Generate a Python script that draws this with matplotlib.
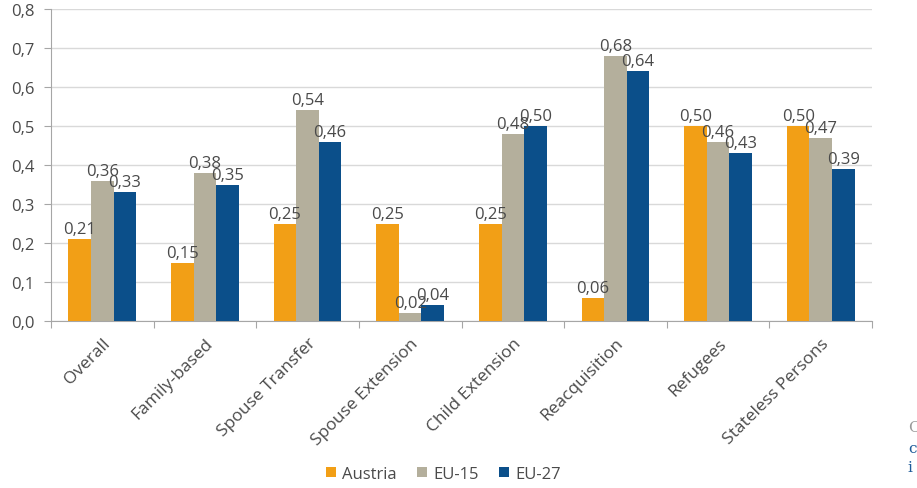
import numpy as np
import matplotlib
matplotlib.use("Agg")
import matplotlib.pyplot as plt
from matplotlib.ticker import FuncFormatter

plt.rcParams['font.family'] = ['Open Sans', 'DejaVu Sans']

categories = ["Overall", "Family-based", "Spouse Transfer", "Spouse Extension",
              "Child Extension", "Reacquisition", "Refugees", "Stateless Persons"]
austria = [0.21, 0.15, 0.25, 0.25, 0.25, 0.06, 0.50, 0.50]
eu15 = [0.36, 0.38, 0.54, 0.02, 0.48, 0.68, 0.46, 0.47]
eu27 = [0.33, 0.35, 0.46, 0.04, 0.50, 0.64, 0.43, 0.39]
series = [("Austria", austria, "#F29F16"),
          ("EU-15", eu15, "#B4AF9C"),
          ("EU-27", eu27, "#0B4F8A")]

txt = "#4a4a4a"
fig = plt.figure(figsize=(9.17, 4.89), dpi=100)
ax = fig.add_axes([0.0556, 0.3415, 0.8954, 0.638])

x = np.arange(len(categories))
w = 0.22
for i, (name, vals, col) in enumerate(series):
    pos = x + (i - 1) * w
    ax.bar(pos, vals, w, color=col, label=name, zorder=3)
    for p, v in zip(pos, vals):
        ax.text(p, v + 0.005, f"{v:.2f}".replace(".", ","), ha="center", va="bottom",
                fontsize=12, color=txt, zorder=4)

ax.set_xlim(-0.5, len(categories) - 0.5)
ax.set_ylim(0, 0.8)
ax.set_yticks(np.arange(0, 0.81, 0.1))
ax.yaxis.set_major_formatter(FuncFormatter(lambda v, _: f"{v:.1f}".replace(".", ",")))
ax.set_xticks(np.arange(-0.5, len(categories), 1.0))
ax.set_xticklabels([])
ax.set_xticks(x, minor=True)
ax.set_xticklabels(categories, minor=True, rotation=45, ha="right", rotation_mode="anchor",
                   fontsize=12.5, color=txt)
ax.tick_params(axis="x", which="minor", length=0, pad=10)
ax.tick_params(axis="x", which="major", length=5, color="#A6A6A6")
ax.tick_params(axis="y", length=5, pad=7, color="#A6A6A6", labelsize=12, labelcolor=txt)

ax.grid(axis="y", color="#D9D9D9", linewidth=1, zorder=0)
for s in ["top", "right"]:
    ax.spines[s].set_visible(False)
for s in ["left", "bottom"]:
    ax.spines[s].set_color("#A6A6A6")

ax.legend(loc="center", bbox_to_anchor=(0.478, -0.49), ncol=3, frameon=False,
          fontsize=12, handlelength=0.6, handleheight=0.6, columnspacing=1.2,
          handletextpad=0.4, labelcolor=txt)

fig.text(0.990, 0.1166, "C", fontsize=11, color="#9a9a9a", family="DejaVu Serif", va="baseline")
fig.text(0.990, 0.0736, "c", fontsize=11, color="#1F5C99", family="DejaVu Serif", va="baseline")
fig.text(0.990, 0.0348, "i", fontsize=11, color="#1F5C99", family="DejaVu Serif", va="baseline")

fig.savefig("out.png", dpi=100)
